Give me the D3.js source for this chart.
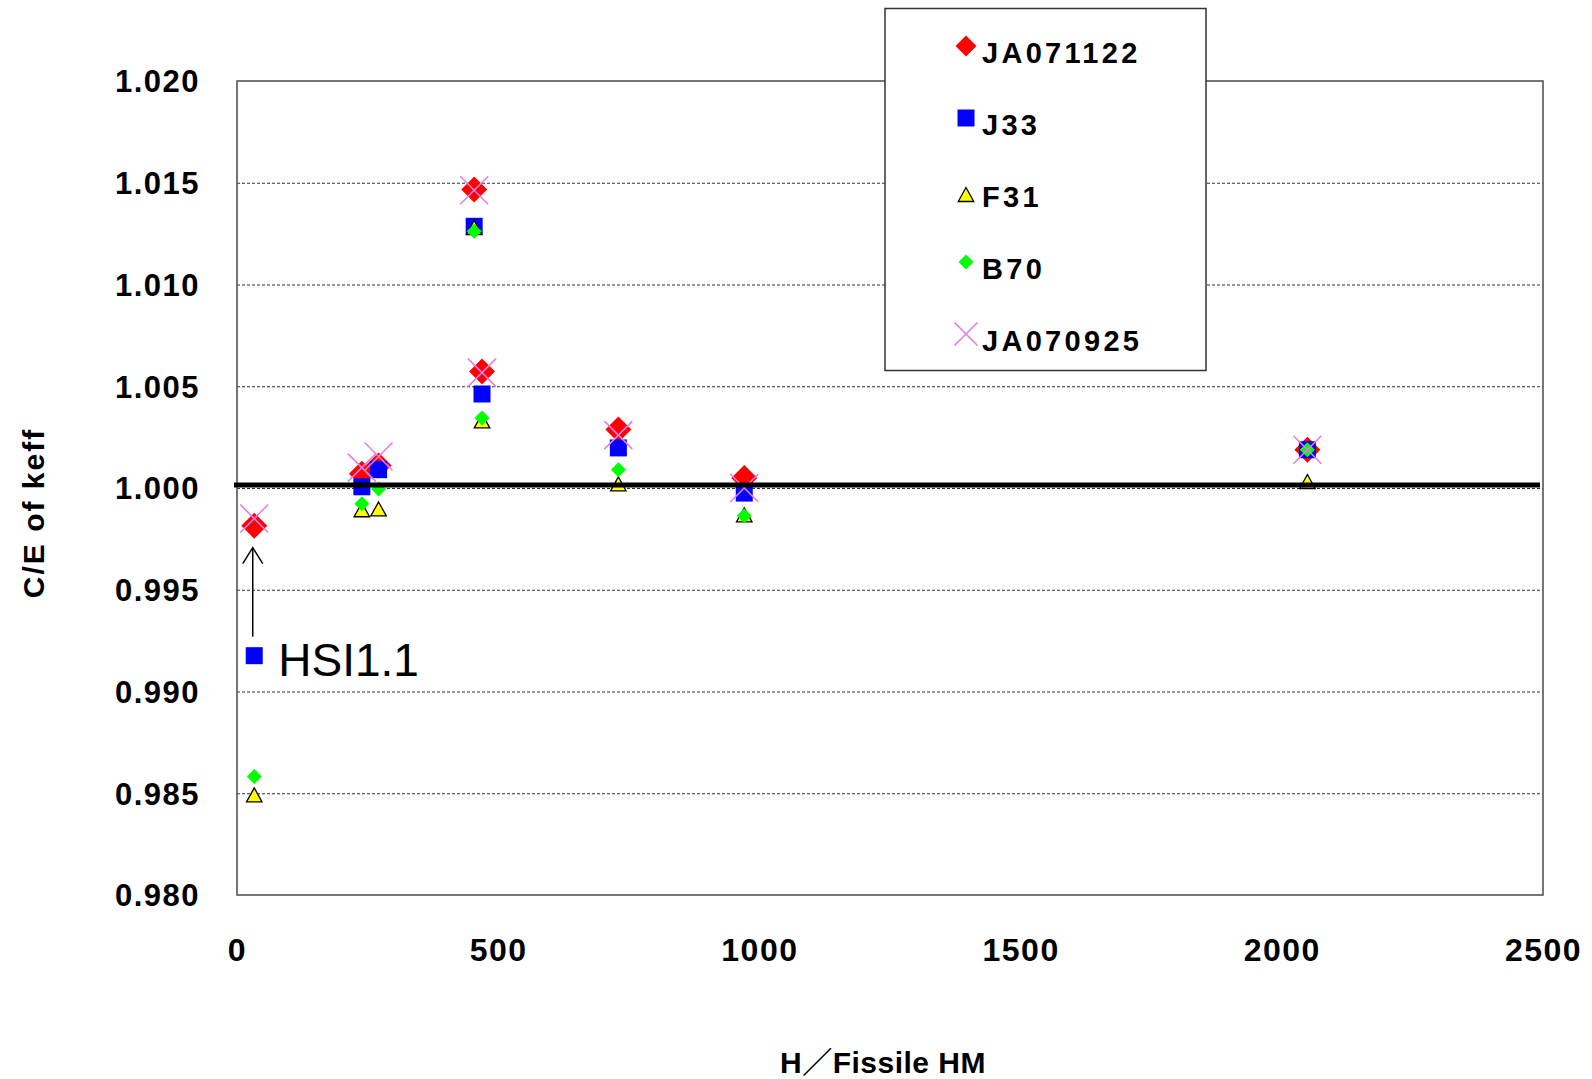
<!DOCTYPE html>
<html>
<head>
<meta charset="utf-8">
<script src="https://cdn.jsdelivr.net/npm/d3@7"></script>
<style>
  html, body { margin: 0; padding: 0; background: #fff; }
  svg { display: block; }
  text { font-family: "Liberation Sans", Arial, "Noto Sans CJK JP", sans-serif; }
</style>
</head>
<body>
<svg id="chart" width="1592" height="1079"></svg>
<script>
// H/Fissile HM ratio of each benchmark case
const hRatio = [33, 239, 271, 454, 469, 730, 971, 2049];

// C/E of keff for each nuclear data library
const ja071122 = [0.99815, 1.0007, 1.0011, 1.01467, 1.00573, 1.00287, 1.00049, 1.00188];
const j33      = [0.99176, 1.00006, 1.0009, 1.01286, 1.00462, 1.00197, 0.99975, 1.00188];
const f31      = [0.98492, 0.99893, 0.99897, 1.0128, 1.0033, 1.0002, 0.99868, 1.00032];
const b70      = [0.98582, 0.99923, 0.99995, 1.01262, 1.00344, 1.0009, 0.99864, 1.00188];
const ja070925 = [0.9985, 1.0010, 1.00155, 1.01463, 1.00567, 1.0026, 1.0000, 1.00188];

const seriesNames = ["JA071122", "J33", "F31", "B70", "JA070925"];

// axis ticks
const yTicks = [0.980, 0.985, 0.990, 0.995, 1.000, 1.005, 1.010, 1.015, 1.020];
const xTicks = [0, 500, 1000, 1500, 2000, 2500];

// unity reference line
const refLevel = 1.00015;

// annotated case
const noteLabel = "HSI1.1";
const noteIndex = 0;

const svg = d3.select("#chart");
const W = 1592, H = 1079;
svg.append("rect").attr("width", W).attr("height", H).attr("fill", "#fff");

const plot = { left: 237, right: 1543, top: 81, bottom: 895 };
const x = d3.scaleLinear().domain([0, 2500]).range([plot.left, plot.right]);
const y = d3.scaleLinear().domain([0.980, 1.020]).range([plot.bottom, plot.top]);

// dashed horizontal gridlines
const gridVals = yTicks.filter(v => v > 0.9801 && v < 1.0199);
svg.append("g")
  .attr("transform", `translate(${plot.left},0)`)
  .call(d3.axisLeft(y).tickValues(gridVals).tickSize(-(plot.right - plot.left)).tickFormat(""))
  .call(g => g.select(".domain").remove())
  .call(g => g.selectAll("line")
    .attr("stroke", "#333").attr("stroke-width", 1).attr("stroke-dasharray", "3,2"));

// plot frame
svg.append("rect")
  .attr("x", plot.left).attr("y", plot.top)
  .attr("width", plot.right - plot.left).attr("height", plot.bottom - plot.top)
  .attr("fill", "none").attr("stroke", "#555").attr("stroke-width", 1.6);

// y tick labels
svg.append("g")
  .attr("transform", `translate(${plot.left},0)`)
  .call(d3.axisLeft(y).tickValues(yTicks).tickSize(0).tickPadding(37).tickFormat(d3.format(".3f")))
  .call(g => g.select(".domain").remove())
  .call(g => g.selectAll("text")
    .attr("font-family", "'Liberation Sans', Arial, sans-serif")
    .attr("font-size", 31).attr("font-weight", "bold")
    .attr("letter-spacing", 1.5).attr("fill", "#000").attr("dy", "0.35em"));

// x tick labels
svg.append("g")
  .attr("transform", `translate(0,${plot.bottom})`)
  .call(d3.axisBottom(x).tickValues(xTicks).tickSize(0).tickPadding(43).tickFormat(d3.format("d")))
  .call(g => g.select(".domain").remove())
  .call(g => g.selectAll("text")
    .attr("font-family", "'Liberation Sans', Arial, sans-serif")
    .attr("font-size", 32).attr("font-weight", "bold")
    .attr("letter-spacing", 1.5).attr("fill", "#000").attr("dy", "0.71em"));

// axis titles
svg.append("text")
  .attr("x", 883).attr("y", 1073)
  .attr("text-anchor", "middle")
  .attr("font-size", 30).attr("font-weight", "bold").attr("letter-spacing", 0.5)
  .text("H／Fissile HM");

svg.append("text")
  .attr("transform", "translate(44,513) rotate(-90)")
  .attr("text-anchor", "middle")
  .attr("font-size", 30).attr("font-weight", "bold").attr("letter-spacing", 2)
  .text("C/E of keff");

// marker path generators (centred on 0,0)
const markers = {
  bigDiamond: s => `M0,${-s}L${s},0L0,${s}L${-s},0Z`,
  square: s => `M${-s},${-s}H${s}V${s}H${-s}Z`,
  triangle: (w, h) => `M0,${-h / 2}L${w / 2},${h / 2}L${-w / 2},${h / 2}Z`,
  cross: s => `M${-s},${-s}L${s},${s}M${-s},${s}L${s},${-s}`
};

const styles = [
  { name: seriesNames[0], values: ja071122, path: markers.bigDiamond(13), fill: "#ff0000", stroke: "none", sw: 0,
    legendPath: markers.bigDiamond(10.5) },
  { name: seriesNames[1], values: j33, path: markers.square(8.5), fill: "#0000ff", stroke: "none", sw: 0,
    legendPath: markers.square(8.5) },
  { name: seriesNames[2], values: f31, path: markers.triangle(15.5, 14), fill: "#ffff00", stroke: "#000", sw: 1.3,
    legendPath: markers.triangle(15.5, 14) },
  { name: seriesNames[3], values: b70, path: markers.bigDiamond(7.5), fill: "#00ff00", stroke: "none", sw: 0,
    legendPath: markers.bigDiamond(7.5) },
  { name: seriesNames[4], values: ja070925, path: markers.cross(14), fill: "none", stroke: "#e47ee4", sw: 1.6,
    legendPath: markers.cross(11.5) }
];

// data markers
styles.forEach(s => {
  svg.append("g").selectAll("path")
    .data(hRatio.map((h, i) => ({ h, v: s.values[i] })))
    .join("path")
    .attr("transform", d => `translate(${x(d.h)},${y(d.v)})`)
    .attr("d", s.path)
    .attr("fill", s.fill)
    .attr("stroke", s.stroke)
    .attr("stroke-width", s.sw);
});

// unity reference line
svg.append("path")
  .datum([[0, refLevel], [2500, refLevel]])
  .attr("d", d3.line().x(d => x(d[0]) - 3).y(d => y(d[1])))
  .attr("stroke", "#000").attr("stroke-width", 5).attr("fill", "none");

// annotation arrow and label for the low-H/HM case
const ax = x(hRatio[noteIndex]) - 1.5;
const aStart = y(j33[noteIndex]) - 19;
const aTip = y(ja071122[noteIndex]) + 22;
svg.append("line")
  .attr("x1", ax).attr("y1", aStart).attr("x2", ax).attr("y2", aTip)
  .attr("stroke", "#000").attr("stroke-width", 1.5);
svg.append("path")
  .attr("d", `M${ax - 10},${aTip + 16}L${ax},${aTip}L${ax + 10},${aTip + 16}`)
  .attr("fill", "none").attr("stroke", "#000").attr("stroke-width", 1.5);
svg.append("text")
  .attr("x", x(hRatio[noteIndex]) + 24).attr("y", y(j33[noteIndex]) + 20)
  .attr("font-size", 46).attr("fill", "#000")
  .text(noteLabel);

// legend
const legend = svg.append("g");
legend.append("rect")
  .attr("x", 885).attr("y", 8.5).attr("width", 321).attr("height", 362)
  .attr("fill", "#fff").attr("stroke", "#333").attr("stroke-width", 1.5);
styles.forEach((s, i) => {
  const base = 62.5 + i * 72;
  const my = base - (s.name === "F31" ? 12 : 16.5);
  legend.append("path")
    .attr("transform", `translate(966,${my})`)
    .attr("d", s.legendPath)
    .attr("fill", s.fill).attr("stroke", s.stroke).attr("stroke-width", s.sw);
  legend.append("text")
    .attr("x", 982).attr("y", base)
    .attr("font-size", 29).attr("font-weight", "bold").attr("letter-spacing", 3.3)
    .attr("fill", "#000")
    .text(s.name);
});
</script>
</body>
</html>
